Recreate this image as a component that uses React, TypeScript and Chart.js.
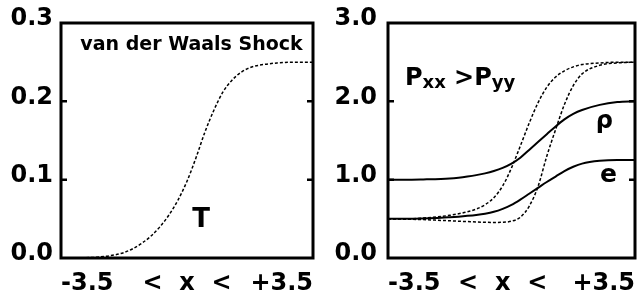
import React, { useEffect, useRef } from "react";
import { Chart, registerables } from "chart.js";

Chart.register(...registerables);

// ---- data ----
const xs = [-3.5, -3, -2.5, -2, -1.75, -1.5, -1.25, -1, -0.75, -0.5, -0.25, 0, 0.25, 0.5, 0.75, 1, 1.25, 1.5, 1.75, 2, 2.5, 3, 3.5];
const temperature = [0, 0.0003, 0.001, 0.004, 0.007, 0.012, 0.019, 0.028, 0.04, 0.055, 0.074, 0.098, 0.128, 0.161, 0.189, 0.212, 0.227, 0.237, 0.243, 0.246, 0.249, 0.25, 0.25];
const density = [1.0, 1.0, 1.003, 1.008, 1.014, 1.025, 1.04, 1.058, 1.08, 1.11, 1.15, 1.205, 1.28, 1.38, 1.48, 1.58, 1.68, 1.77, 1.84, 1.89, 1.955, 1.99, 2.0];
const energy = [0.5, 0.5, 0.505, 0.513, 0.52, 0.528, 0.538, 0.55, 0.566, 0.59, 0.628, 0.678, 0.745, 0.82, 0.895, 0.97, 1.04, 1.11, 1.165, 1.205, 1.24, 1.25, 1.25];
const pressureXX = [0.5, 0.5, 0.51, 0.53, 0.545, 0.565, 0.59, 0.625, 0.68, 0.77, 0.92, 1.15, 1.43, 1.72, 1.98, 2.18, 2.31, 2.39, 2.44, 2.47, 2.49, 2.5, 2.5];
const pressureYY = [0.5, 0.495, 0.49, 0.48, 0.475, 0.47, 0.465, 0.46, 0.456, 0.454, 0.456, 0.47, 0.52, 0.66, 0.91, 1.3, 1.64, 1.96, 2.2, 2.35, 2.46, 2.49, 2.5];

const leftXTickValues = [-3.5, 0, 3.5];
const rightXTickValues = [-3.5, -0.25, 3.5];
const xTickLabels = ["-3.5", "<  x  <", "+3.5"];

const leftLabels = [
  { text: "van der Waals Shock", x: 0.125, y: 0.2655, size: 19 },
  { text: "T", x: 0.39, y: 0.04, size: 26 },
];
const rightLabels = [
  { text: "ρ", x: 2.63, y: 1.66, size: 24 },
  { text: "e", x: 2.75, y: 0.97, size: 25 },
];
const pressureLabel = { x: -3.02, y: 2.21, parts: [
  { t: "P", sub: false }, { t: "xx", sub: true }, { t: " >", sub: false }, { t: "P", sub: false }, { t: "yy", sub: true },
] };

const FONT = "'DejaVu Sans', sans-serif";

function toPoints(vals: number[]) {
  return xs.map((x, i) => ({ x, y: vals[i] }));
}

function framePlugin(labels: any[], rich: any | null) {
  return {
    id: "frame",
    afterDatasetsDraw(chart: any) {
      const { ctx, chartArea } = chart;
      const { left, right, top, bottom } = chartArea;
      const xScale = chart.scales.x;
      const yScale = chart.scales.y;
      ctx.save();
      ctx.strokeStyle = "#000";
      ctx.lineWidth = 3;
      ctx.strokeRect(left, top, right - left, bottom - top);
      ctx.lineWidth = 2.5;
      yScale.ticks.forEach((t: any, i: number) => {
        if (i === 0 || i === yScale.ticks.length - 1) return;
        const py = yScale.getPixelForValue(t.value);
        ctx.beginPath();
        ctx.moveTo(left, py);
        ctx.lineTo(left + 6, py);
        ctx.moveTo(right - 6, py);
        ctx.lineTo(right, py);
        ctx.stroke();
      });
      ctx.fillStyle = "#000";
      ctx.textBaseline = "alphabetic";
      labels.forEach((l) => {
        ctx.font = `bold ${l.size}px ${FONT}`;
        ctx.textAlign = "center";
        ctx.fillText(l.text, xScale.getPixelForValue(l.x), yScale.getPixelForValue(l.y));
      });
      if (rich) {
        let px = xScale.getPixelForValue(rich.x);
        const py = yScale.getPixelForValue(rich.y);
        ctx.textAlign = "left";
        rich.parts.forEach((p: any) => {
          ctx.font = p.sub ? `bold 18px ${FONT}` : `bold 24px ${FONT}`;
          ctx.fillText(p.t, px, p.sub ? py + 3 : py);
          px += ctx.measureText(p.t).width;
        });
      }
      ctx.restore();
    },
  };
}

function makeConfig(opts: {
  datasets: any[];
  yMax: number;
  yStep: number;
  yWidth: number;
  yPad: number;
  rightPad: number;
  xTicks: number[];
  labels: any[];
  rich: any | null;
}) {
  return {
    type: "line" as const,
    data: { datasets: opts.datasets },
    options: {
      animation: false as const,
      responsive: false,
      layout: { padding: { left: 0, right: opts.rightPad, top: 23, bottom: 0 } },
      plugins: { legend: { display: false }, tooltip: { enabled: false } },
      elements: { point: { radius: 0 } },
      scales: {
        x: {
          type: "linear" as const,
          min: -3.5,
          max: 3.5,
          grid: { display: false, drawTicks: false },
          border: { display: false },
          afterBuildTicks: (scale: any) => {
            scale.ticks = opts.xTicks.map((v) => ({ value: v }));
          },
          afterFit: (scale: any) => {
            scale.height = 33;
            scale.paddingLeft = 0;
            scale.paddingRight = 0;
          },
          ticks: {
            autoSkip: false,
            maxRotation: 0,
            align: "inner" as const,
            padding: 11,
            color: "#000",
            font: { family: FONT, size: 24, weight: "bold" as const },
            callback: (_v: any, i: number) => xTickLabels[i],
          },
        },
        y: {
          min: 0,
          max: opts.yMax,
          grid: { display: false, drawTicks: false },
          border: { display: false },
          afterFit: (scale: any) => {
            scale.width = opts.yWidth;
            scale.paddingTop = 0;
            scale.paddingBottom = 0;
          },
          ticks: {
            stepSize: opts.yStep,
            padding: opts.yPad,
            labelOffset: -4,
            color: "#000",
            font: { family: FONT, size: 24, weight: "bold" as const },
            callback: (v: any) => Number(v).toFixed(1),
          },
        },
      },
    },
    plugins: [framePlugin(opts.labels, opts.rich)],
  };
}

const dotted = { borderColor: "#000", borderWidth: 1.5, borderDash: [3, 2], cubicInterpolationMode: "monotone" as const, fill: false };
const solid = { borderColor: "#000", borderWidth: 2, cubicInterpolationMode: "monotone" as const, fill: false };

export default function App() {
  const leftRef = useRef<HTMLCanvasElement>(null);
  const rightRef = useRef<HTMLCanvasElement>(null);

  useEffect(() => {
    const left = new Chart(leftRef.current as HTMLCanvasElement, makeConfig({
      datasets: [{ label: "T", data: toPoints(temperature), ...dotted }],
      yMax: 0.3,
      yStep: 0.1,
      yWidth: 61,
      yPad: 8,
      rightPad: 8,
      xTicks: leftXTickValues,
      labels: leftLabels,
      rich: null,
    }) as any);
    const right = new Chart(rightRef.current as HTMLCanvasElement, makeConfig({
      datasets: [
        { label: "rho", data: toPoints(density), ...solid },
        { label: "e", data: toPoints(energy), ...solid },
        { label: "Pxx", data: toPoints(pressureXX), ...dotted },
        { label: "Pyy", data: toPoints(pressureYY), ...dotted },
      ],
      yMax: 3,
      yStep: 1,
      yWidth: 67,
      yPad: 11,
      rightPad: 7,
      xTicks: rightXTickValues,
      labels: rightLabels,
      rich: pressureLabel,
    }) as any);
    return () => {
      left.destroy();
      right.destroy();
    };
  }, []);

  return (
    <div style={{ position: "absolute", left: 0, top: 0, width: 642, height: 291, background: "#fff" }}>
      <canvas ref={leftRef} width={321} height={291} style={{ position: "absolute", left: 0, top: 0, width: 321, height: 291 }} />
      <canvas ref={rightRef} width={321} height={291} style={{ position: "absolute", left: 321, top: 0, width: 321, height: 291 }} />
    </div>
  );
}
